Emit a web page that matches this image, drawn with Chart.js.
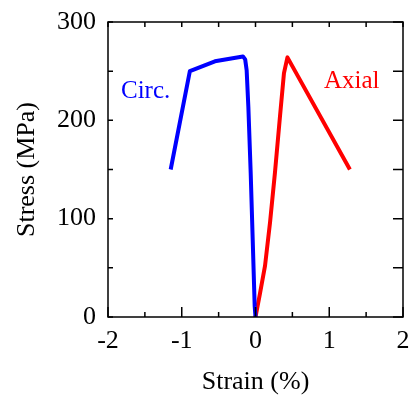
<!DOCTYPE html>
<html>
<head>
<meta charset="utf-8">
<script src="https://cdn.jsdelivr.net/npm/chart.js@4"></script>
<style>
  html, body { margin: 0; padding: 0; background: #fff; }
  canvas { display: block; }
</style>
</head>
<body>
<canvas id="stressChart" width="411" height="399"></canvas>
<script>
// ====== Data ======
const circStrain = [-1.15, -0.89, -0.55, -0.17, -0.14, -0.12, -0.097, -0.065, -0.038, -0.011, 0];
const circStress = [150, 250, 260, 265, 262, 251, 214, 146, 79, 11, 0];

const axialStrain = [0, 0.061, 0.129, 0.197, 0.264, 0.332, 0.386, 0.433, 1.28];
const axialStress = [0, 24, 52, 96, 147, 204, 248, 264, 150];

const xTicks = [-2, -1, 0, 1, 2];
const yTicks = [0, 100, 200, 300];

// curve labels: [text, strain, stress, colour]
const curveLabels = [
  ['Circ.', -1.49, 223, '#0000ff'],
  ['Axial', 1.304, 233, '#ff0000']
];

const FONT = "'Liberation Serif', 'Times New Roman', serif";

function toPoints(xs, ys) {
  return xs.map((x, i) => ({ x: x, y: ys[i] }));
}

// ====== Frame, inward ticks and curve labels ======
const framePlugin = {
  id: 'frame',
  afterDatasetsDraw(chart) {
    const { ctx, chartArea: a, scales } = chart;
    const xs = scales.x, ys = scales.y;
    ctx.save();
    ctx.strokeStyle = '#000';
    ctx.lineWidth = 1.5;
    ctx.strokeRect(a.left, a.top, a.right - a.left, a.bottom - a.top);

    ctx.beginPath();
    for (let v = xs.min; v <= xs.max + 1e-9; v += 0.5) {
      const px = xs.getPixelForValue(v);
      const major = Math.abs(v - Math.round(v)) < 1e-9;
      ctx.moveTo(px, a.bottom);
      ctx.lineTo(px, a.bottom - (major ? 10 : 5));
      ctx.moveTo(px, a.top);
      ctx.lineTo(px, a.top + 5);
    }
    for (let v = ys.min; v <= ys.max + 1e-9; v += 50) {
      const py = ys.getPixelForValue(v);
      ctx.moveTo(a.left, py);
      ctx.lineTo(a.left + 5, py);
      ctx.moveTo(a.right, py);
      ctx.lineTo(a.right - 10, py);
    }
    ctx.stroke();

    ctx.font = '25px ' + FONT;
    ctx.textAlign = 'center';
    ctx.textBaseline = 'alphabetic';
    curveLabels.forEach(([text, x, y, color]) => {
      ctx.fillStyle = color;
      ctx.fillText(text, xs.getPixelForValue(x), ys.getPixelForValue(y));
    });
    ctx.restore();
  }
};

const ctx = document.getElementById('stressChart').getContext('2d');
const stressChart = new Chart(ctx, {
  type: 'line',
  data: {
    datasets: [{
      label: 'Circ.',
      data: toPoints(circStrain, circStress),
      borderColor: '#0000ff',
      borderWidth: 4,
      borderJoinStyle: 'round',
      pointRadius: 0,
      tension: 0
    }, {
      label: 'Axial',
      data: toPoints(axialStrain, axialStress),
      borderColor: '#ff0000',
      borderWidth: 4,
      borderJoinStyle: 'round',
      pointRadius: 0,
      tension: 0
    }]
  },
  options: {
    responsive: false,
    animation: false,
    layout: { padding: { top: 22, right: 8, left: 0, bottom: 0 } },
    plugins: {
      legend: { display: false },
      tooltip: { enabled: false }
    },
    scales: {
      x: {
        type: 'linear',
        min: -2,
        max: 2,
        afterBuildTicks: (s) => { s.ticks = xTicks.map(v => ({ value: v })); },
        afterFit: (s) => {
          s.height = 82;
          s.paddingLeft = 0;
          s.paddingRight = 0;
        },
        ticks: {
          color: '#000',
          padding: 9,
          maxRotation: 0,
          font: { family: FONT, size: 26 }
        },
        grid: { drawOnChartArea: false, drawTicks: false },
        border: { display: false },
        title: {
          display: true,
          text: 'Strain (%)',
          color: '#000',
          font: { family: FONT, size: 26 },
          padding: { top: 0, bottom: 1 }
        }
      },
      y: {
        type: 'linear',
        min: 0,
        max: 300,
        afterBuildTicks: (s) => { s.ticks = yTicks.map(v => ({ value: v })); },
        afterFit: (s) => {
          s.width = 108;
          s.paddingTop = 0;
          s.paddingBottom = 0;
        },
        ticks: {
          color: '#000',
          padding: 12,
          font: { family: FONT, size: 26 }
        },
        grid: { drawOnChartArea: false, drawTicks: false },
        border: { display: false },
        title: {
          display: true,
          text: 'Stress (MPa)',
          color: '#000',
          font: { family: FONT, size: 26 },
          padding: { top: 12, bottom: 0 }
        }
      }
    }
  },
  plugins: [framePlugin]
});
</script>
</body>
</html>
